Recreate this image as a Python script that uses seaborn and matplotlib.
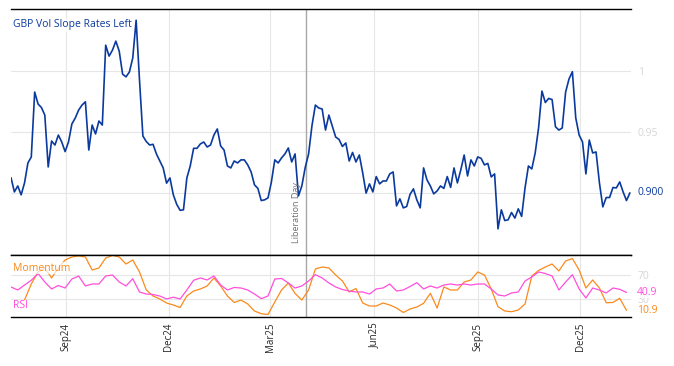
import numpy as np
import pandas as pd
import matplotlib
matplotlib.use("Agg")
import matplotlib.pyplot as plt
import matplotlib.dates as mdates
import seaborn as sns

# ---------------- data ----------------
start_date = "2024-07-14"
step = "3D"
vol_slope = [
    0.9125, 0.9008, 0.9057, 0.8984, 0.9082, 0.9246, 0.9295, 0.9828, 0.9730, 0.9701,
    0.9639, 0.9213, 0.9426, 0.9393, 0.9475, 0.9418, 0.9339, 0.9418, 0.9566, 0.9615,
    0.9680, 0.9721, 0.9748, 0.9352, 0.9557, 0.9484, 0.9590, 0.9557, 1.0213, 1.0123,
    1.0172, 1.0246, 1.0164, 0.9975, 0.9953, 0.9992, 1.0107, 1.0418, 0.9926, 0.9467,
    0.9422, 0.9393, 0.9399, 0.9320, 0.9262, 0.9205, 0.9080, 0.9123, 0.8984, 0.8906,
    0.8857, 0.8861, 0.9123, 0.9221, 0.9366, 0.9366, 0.9402, 0.9418, 0.9377, 0.9393,
    0.9475, 0.9525, 0.9385, 0.9352, 0.9221, 0.9205, 0.9262, 0.9246, 0.9271, 0.9271,
    0.9230, 0.9172, 0.9066, 0.9037, 0.8937, 0.8943, 0.8959, 0.9090, 0.9271, 0.9246,
    0.9287, 0.9320, 0.9369, 0.9254, 0.9320, 0.8975, 0.9057, 0.9209, 0.9320, 0.9553,
    0.9721, 0.9697, 0.9689, 0.9516, 0.9639, 0.9549, 0.9459, 0.9439, 0.9381, 0.9410,
    0.9262, 0.9332, 0.9254, 0.9311, 0.9164, 0.8998, 0.9074, 0.9008, 0.9134, 0.9074,
    0.9098, 0.9098, 0.9156, 0.9172, 0.8893, 0.8951, 0.8877, 0.8888, 0.8988, 0.9033,
    0.8943, 0.8877, 0.9205, 0.9107, 0.9057, 0.8992, 0.9016, 0.9057, 0.9037, 0.9134,
    0.9045, 0.9205, 0.9082, 0.9189, 0.9311, 0.9139, 0.9271, 0.9221, 0.9295, 0.9284,
    0.9230, 0.9242, 0.9131, 0.9156, 0.8705, 0.8861, 0.8773, 0.8779, 0.8839, 0.8793,
    0.8869, 0.8807, 0.9041, 0.9221, 0.9197, 0.9328, 0.9533, 0.9836, 0.9742, 0.9776,
    0.9766, 0.9543, 0.9516, 0.9533, 0.9828, 0.9935, 0.9995, 0.9615, 0.9475, 0.9418,
    0.9156, 0.9434, 0.9328, 0.9336, 0.9082, 0.8885, 0.8962, 0.8962, 0.9044, 0.9041,
    0.9090, 0.9008, 0.8937, 0.9000,
]
momentum = [
    np.nan, np.nan, 28.3, 55, 75, 81.7, 65, 81.7, 95, 100,
    101.7, 100, 78.3, 81.7, 98.3, 102.5, 100, 88.3, 95, 75,
    45, 35, 30, 23.3, 20, 15.8, 35, 43.3, 46.7, 51.7,
    65, 51.7, 35, 24.2, 28.3, 21.7, 10, 5.5, 4.2, 25,
    45, 56.7, 39.2, 28.3, 45, 80, 83.3, 81.7, 70, 60,
    41.7, 47.5, 23.3, 18.3, 18.3, 23.3, 20, 15, 7.5, 13.3,
    16.7, 22.8, 39.5, 15, 50, 45, 45, 58.3, 61.7, 75,
    70, 46.7, 17.2, 10, 8.8, 11.7, 21.7, 68.3, 77.5, 83.3,
    88.3, 76.7, 93.3, 97.5, 78.3, 48.3, 61.7, 48.3, 23.8, 24.2,
    31.2, 10.9,
]
rsi = [
    50, 45, 53.3, 61.2, 72.5, 58.3, 46.7, 52.5, 48.3, 63.3,
    68.3, 51.7, 55, 55, 68.3, 70, 58.3, 51.7, 63.8, 41.7,
    38.3, 37.5, 35, 30, 33, 30, 45, 61.2, 65, 61.7,
    68.3, 53.3, 45, 49.2, 48.3, 45, 38.3, 30.5, 35, 63.3,
    64.2, 56.7, 48.3, 51.7, 60, 70.5, 65, 56.7, 50, 45.8,
    43.3, 41.7, 41.7, 38.3, 46.7, 48.3, 55, 43.3, 45, 50.8,
    57.2, 46.7, 51.7, 48.3, 53.3, 55, 53.3, 55, 53.3, 55,
    55, 46.7, 36.7, 35, 40, 41.7, 60, 66.7, 75, 72.5,
    68.3, 45, 58.3, 70.5, 46.7, 31.7, 48.3, 45, 40, 48.3,
    46.2, 40.9,
]
event_date = "2025-04-02"
event_label = "Liberation Day"
series_title = "GBP Vol Slope Rates Left"
tick_months = ["2024-09-01", "2024-12-01", "2025-03-01", "2025-06-01",
               "2025-09-01", "2025-12-01"]
main_yticks = [0.9, 0.95, 1.0]
main_yticklabels = ["", "0.95", "1"]
ind_yticks = [30, 70]
ind_yticklabels = ["30", "70"]

# ---------------- style ----------------
BLUE = "#0b3a9e"
ORANGE = "#fb8a1c"
MAGENTA = "#ff4fdc"
GRID = "#e6e6e6"
LIGHT = "#d6d6d6"

sns.set_style("white")
plt.rcParams["font.family"] = ["Open Sans", "DejaVu Sans"]

dates = pd.date_range(start_date, periods=len(vol_slope), freq=step)
ind_dates = dates[::2]

df_main = pd.DataFrame({"date": dates, "value": vol_slope})
df_ind = pd.DataFrame({"date": ind_dates, "Momentum": momentum, "RSI": rsi})

W, H = 674, 366
fig = plt.figure(figsize=(W / 100, H / 100), dpi=100)
ax1 = fig.add_axes([11 / W, 1 - 255 / H, 620 / W, 246 / H])
ax2 = fig.add_axes([11 / W, 1 - 317 / H, 620 / W, 62 / H], sharex=ax1)

sns.lineplot(data=df_main, x="date", y="value", ax=ax1, color=BLUE, lw=1.2)
sns.lineplot(data=df_ind, x="date", y="Momentum", ax=ax2, color=ORANGE, lw=0.9)
sns.lineplot(data=df_ind, x="date", y="RSI", ax=ax2, color=MAGENTA, lw=0.9)

xt = pd.to_datetime(tick_months)
x_left = dates[0]
x_right = dates[-1] + pd.Timedelta(days=1)
ev = pd.Timestamp(event_date)

for ax in (ax1, ax2):
    ax.set_xlim(x_left, x_right)
    ax.set_xlabel("")
    ax.set_ylabel("")
    for s in ("left", "right"):
        ax.spines[s].set_visible(False)
    for s in ("top", "bottom"):
        ax.spines[s].set_color("black")
        ax.spines[s].set_linewidth(1.0)
    ax.grid(True, color=GRID, lw=0.8)
    ax.set_axisbelow(True)
    ax.set_xticks(xt)
    ax.tick_params(axis="x", direction="in", length=5, width=0.8, color="black")
    ax.yaxis.tick_right()
    ax.tick_params(axis="y", length=0, labelcolor=LIGHT, labelsize=7.5, pad=5)
    ax.axvline(ev, color="#a8a8a8", lw=1.0, zorder=1)

ax1.tick_params(axis="x", labelbottom=False)
ax1.set_ylim(0.849, 1.051)
ax1.set_yticks(main_yticks)
ax1.set_yticklabels(main_yticklabels)

ax2.set_ylim(0, 103.3)
ax2.set_yticks(ind_yticks)
ax2.set_yticklabels(ind_yticklabels)
ax2.xaxis.set_major_formatter(mdates.DateFormatter("%b%y"))
ax2.tick_params(axis="x", labelsize=7, labelrotation=90, pad=4)

# series title & event label
ax1.text(0.003, 0.935, series_title, transform=ax1.transAxes, color=BLUE,
         fontsize=7.5, va="center", ha="left",
         bbox=dict(fc="white", ec="none", alpha=0.8, pad=1))
ax1.text(ev - pd.Timedelta(days=5), 0.859, event_label, rotation=90,
         ha="right", va="bottom", color="#707070", fontsize=6.5)

# indicator labels
ax2.text(0.003, 0.79, "Momentum", transform=ax2.transAxes, color=ORANGE,
         fontsize=7.5, va="center", ha="left",
         bbox=dict(fc="white", ec="none", alpha=0.7, pad=0.5))
ax2.text(0.003, 0.18, "RSI", transform=ax2.transAxes, color=MAGENTA,
         fontsize=7.5, va="center", ha="left",
         bbox=dict(fc="white", ec="none", alpha=0.7, pad=0.5))

# last-value labels
xoff = 1 + 6 / 620
ax1.text(xoff, vol_slope[-1], f"{vol_slope[-1]:.3f}",
         transform=ax1.get_yaxis_transform(), color=BLUE, fontsize=7.5,
         va="center", ha="left", bbox=dict(fc="white", ec="none", pad=0.5))
ax2.text(xoff, rsi[-1], f"{rsi[-1]:.1f}", transform=ax2.get_yaxis_transform(),
         color=MAGENTA, fontsize=7.5, va="center", ha="left",
         bbox=dict(fc="white", ec="none", alpha=0.85, pad=0.3))
ax2.text(xoff, momentum[-1], f"{momentum[-1]:.1f}",
         transform=ax2.get_yaxis_transform(), color=ORANGE, fontsize=7.5,
         va="center", ha="left", bbox=dict(fc="white", ec="none", pad=0.3))

fig.savefig("out.png", dpi=100)
